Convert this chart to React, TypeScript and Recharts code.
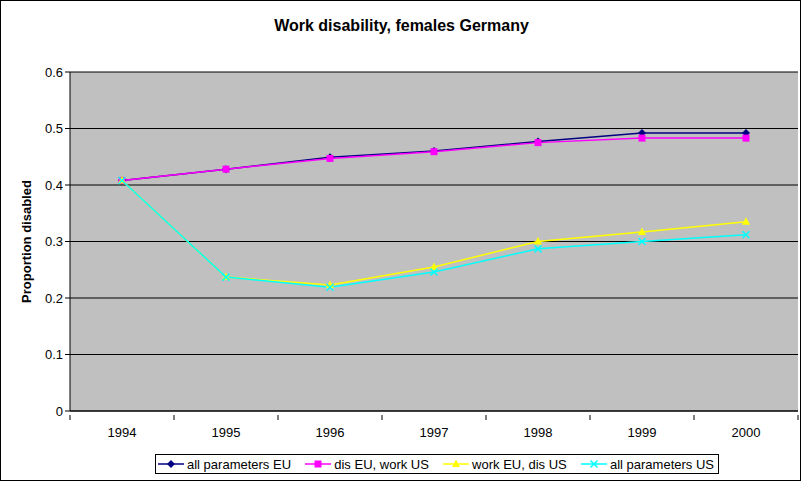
import { LineChart, Line, XAxis, YAxis, CartesianGrid } from 'recharts';

const years = ['1994', '1995', '1996', '1997', '1998', '1999', '2000'];
const allParamsEU = [0.408, 0.428, 0.449, 0.46, 0.477, 0.492, 0.492];
const disEUWorkUS = [0.408, 0.428, 0.447, 0.459, 0.475, 0.483, 0.483];
const workEUDisUS = [0.408, 0.237, 0.223, 0.255, 0.3, 0.317, 0.335];
const allParamsUS = [0.408, 0.237, 0.219, 0.246, 0.287, 0.3, 0.312];
const yTicks = [0, 0.1, 0.2, 0.3, 0.4, 0.5, 0.6];

const data = years.map((year, i) => ({
  year,
  allEU: allParamsEU[i],
  disEU: disEUWorkUS[i],
  workEU: workEUDisUS[i],
  allUS: allParamsUS[i],
}));

const W = 801;
const H = 481;
const PLOT_LEFT = 70;
const PLOT_RIGHT = 798;
const HALF_BAND = (PLOT_RIGHT - PLOT_LEFT) / years.length / 2;
const FONT = '"Liberation Sans", Arial, sans-serif';

const series = [
  { key: 'allEU', name: 'all parameters EU', color: '#000080', shape: 'diamond' },
  { key: 'disEU', name: 'dis EU, work US', color: '#FF00FF', shape: 'square' },
  { key: 'workEU', name: 'work EU, dis US', color: '#FFFF00', shape: 'triangle' },
  { key: 'allUS', name: 'all parameters US', color: '#00FFFF', shape: 'cross' },
];

function Marker({ cx, cy, color, shape }: any) {
  if (cx == null || cy == null) return null;
  if (shape === 'diamond') {
    return <path d={`M${cx},${cy - 4}L${cx + 4},${cy}L${cx},${cy + 4}L${cx - 4},${cy}Z`} fill={color} />;
  }
  if (shape === 'square') {
    return <rect x={cx - 3.5} y={cy - 3.5} width={7} height={7} fill={color} />;
  }
  if (shape === 'triangle') {
    return <path d={`M${cx},${cy - 4.5}L${cx + 4},${cy + 3}L${cx - 4},${cy + 3}Z`} fill={color} />;
  }
  return (
    <path
      d={`M${cx - 3.5},${cy - 3.5}L${cx + 3.5},${cy + 3.5}M${cx + 3.5},${cy - 3.5}L${cx - 3.5},${cy + 3.5}`}
      stroke={color}
      strokeWidth={1.5}
    />
  );
}

function XTick({ x, y, payload, index }: any) {
  return (
    <g>
      {index === 0 && <line x1={x - HALF_BAND} y1={y - 4} x2={x - HALF_BAND} y2={y + 1} stroke="#000" />}
      <line x1={x + HALF_BAND} y1={y - 4} x2={x + HALF_BAND} y2={y + 1} stroke="#000" />
      <text x={x} y={y + 18} textAnchor="middle" fontSize={13} fontFamily={FONT} fill="#000">
        {payload.value}
      </text>
    </g>
  );
}

function LegendBox() {
  return (
    <div
      style={{
        position: 'absolute',
        left: 154,
        top: 453,
        width: 564,
        height: 20,
        border: '1px solid #000',
        boxSizing: 'border-box',
        display: 'flex',
        alignItems: 'center',
        justifyContent: 'space-between',
        padding: '0 4px 0 2px',
        fontFamily: FONT,
        fontSize: 13,
        background: '#fff',
      }}
    >
      {series.map((s) => (
        <span key={s.key} style={{ display: 'flex', alignItems: 'center' }}>
          <svg width={26} height={10}>
            <line x1={0} y1={5} x2={26} y2={5} stroke={s.color} strokeWidth={1.5} />
            <Marker cx={13} cy={5} color={s.color} shape={s.shape} />
          </svg>
          <span style={{ marginLeft: 3 }}>{s.name}</span>
        </span>
      ))}
    </div>
  );
}

export default function App() {
  return (
    <div
      style={{
        position: 'fixed',
        left: 0,
        top: 0,
        width: W,
        height: H,
        background: '#fff',
        boxSizing: 'border-box',
        border: '1px solid #000',
      }}
    >
      <div
        style={{
          position: 'absolute',
          top: 16,
          left: 0,
          width: W,
          textAlign: 'center',
          fontFamily: FONT,
          fontWeight: 'bold',
          fontSize: 16,
        }}
      >
        Work disability, females Germany
      </div>
      <div style={{ position: 'absolute', left: -1, top: -1 }}>
        <LineChart width={W} height={H} data={data} margin={{ top: 72, right: 3, bottom: 0, left: 0 }}>
          <CartesianGrid vertical={false} stroke="#000" fill="#C0C0C0" fillOpacity={1} />
          <XAxis
            dataKey="year"
            padding={{ left: HALF_BAND, right: HALF_BAND }}
            stroke="#000"
            tickLine={false}
            tick={<XTick />}
            interval={0}
            height={70}
          />
          <YAxis
            width={70}
            domain={[0, 0.6]}
            ticks={yTicks}
            stroke="#000"
            tickSize={5}
            tick={{ fill: '#000', fontSize: 13, fontFamily: FONT }}
            label={({ viewBox }: any) => (
              <text
                x={31}
                y={viewBox.y + viewBox.height / 2}
                transform={`rotate(-90, 31, ${viewBox.y + viewBox.height / 2})`}
                textAnchor="middle"
                fontSize={13}
                fontWeight="bold"
                fontFamily={FONT}
                fill="#000"
              >
                Proportion disabled
              </text>
            )}
          />
          {series.map((s) => (
            <Line
              key={s.key}
              dataKey={s.key}
              name={s.name}
              stroke={s.color}
              strokeWidth={1.5}
              isAnimationActive={false}
              dot={(p: any) => <Marker key={`${s.key}-${p.index}`} cx={p.cx} cy={p.cy} color={s.color} shape={s.shape} />}
              activeDot={false}
            />
          ))}
        </LineChart>
      </div>
      <LegendBox />
    </div>
  );
}
